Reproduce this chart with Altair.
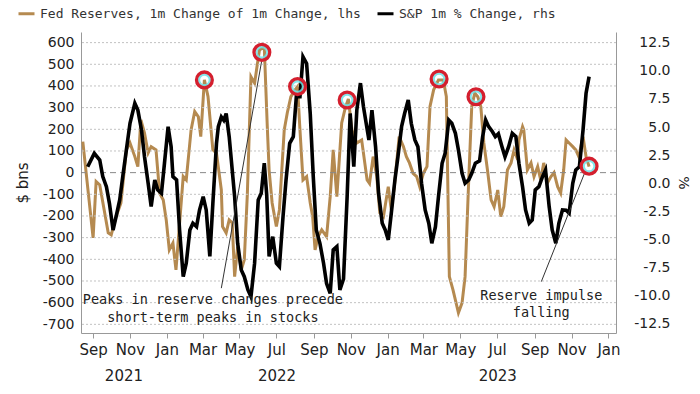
import altair as alt
import pandas as pd

TAN = "#b58a50"
BLACK = "#000000"
RED = "#d41f2e"
CYAN = "#6fe3e8"

S1 = "Fed Reserves, 1m Change of 1m Change, lhs"
S2 = "S&P 1m % Change, rhs"

reserve_dates = [
    "2021-08-15", "2021-09-01", "2021-09-06", "2021-09-12", "2021-09-26", "2021-10-01", "2021-10-09", "2021-10-17", "2021-10-26", "2021-11-01",
    "2021-11-09", "2021-11-14", "2021-11-19", "2021-11-25", "2021-12-01", "2021-12-06", "2021-12-14", "2021-12-20", "2021-12-26", "2021-12-31",
    "2022-01-05", "2022-01-11", "2022-01-16", "2022-01-28", "2022-02-02", "2022-02-10", "2022-02-16", "2022-02-22", "2022-02-26", "2022-03-04",
    "2022-03-10", "2022-03-18", "2022-03-24", "2022-04-01", "2022-04-03", "2022-04-09", "2022-04-14", "2022-04-19", "2022-04-23", "2022-04-28",
    "2022-05-04", "2022-05-09", "2022-05-14", "2022-05-20", "2022-05-26", "2022-06-03", "2022-06-11", "2022-06-16", "2022-06-19", "2022-06-24",
    "2022-07-01", "2022-07-06", "2022-07-14", "2022-07-19", "2022-07-25", "2022-08-01", "2022-08-05", "2022-08-09", "2022-08-14", "2022-08-20",
    "2022-08-26", "2022-08-30", "2022-09-03", "2022-09-08", "2022-09-14", "2022-09-22", "2022-09-28", "2022-10-03", "2022-10-09", "2022-10-17",
    "2022-10-23", "2022-10-28", "2022-11-03", "2022-11-11", "2022-11-19", "2022-11-28", "2022-12-02", "2022-12-08", "2022-12-14", "2022-12-19",
    "2022-12-25", "2023-01-02", "2023-01-07", "2023-01-12", "2023-01-20", "2023-01-27", "2023-02-01", "2023-02-06", "2023-02-12", "2023-02-18",
    "2023-02-23", "2023-03-01", "2023-03-07", "2023-03-12", "2023-03-18", "2023-03-26", "2023-04-03", "2023-04-08", "2023-04-13", "2023-04-19",
    "2023-04-28", "2023-05-04", "2023-05-09", "2023-05-15", "2023-05-20", "2023-05-25", "2023-05-30", "2023-06-04", "2023-06-09", "2023-06-15",
    "2023-06-21", "2023-06-26", "2023-07-02", "2023-07-07", "2023-07-12", "2023-07-18", "2023-07-24", "2023-07-29", "2023-08-04", "2023-08-06",
    "2023-08-12", "2023-08-14", "2023-08-20", "2023-08-26", "2023-08-31", "2023-09-06", "2023-09-11", "2023-09-16", "2023-09-22", "2023-09-28",
    "2023-10-03", "2023-10-09", "2023-10-14", "2023-10-19", "2023-10-23", "2023-10-28", "2023-11-03", "2023-11-08", "2023-11-13", "2023-11-20",
    "2023-11-25", "2023-11-30",
]
reserve_values = [
    143, -301, -41, -57, -278, -287, -203, -140, 105, 137,
    74, 28, 243, 183, 91, 120, 105, -94, -126, -220,
    -357, -325, -449, -18, -34, 197, 282, 258, 166, 428,
    351, 105, 90, -80, -249, -278, -218, -232, -480, -341,
    -449, -402, -100, 443, 413, 566, 580, 212, 12, -140,
    -249, -172, 197, 275, 351, 382, 397, 197, -34, -18,
    -140, -203, -357, -295, -264, -295, -111, 105, -111, 229,
    300, 340, 197, 137, 151, -34, -50, 74, -18, -186,
    -203, -65, -172, -65, 166, 120, 74, 45, -3, -18,
    -65, -3, 28, 305, 382, 428, 428, 351, -480, -541,
    -647, -601, -480, -34, 305, 367, 350, 305, 137, 12,
    -126, -157, -80, -203, -157, 12, 45, 105, 59, 151,
    212, 197, 12, 45, -18, 28, -34, 45, -48, -18,
    0, -65, -94, 12, 151, 137, 120, 105, 74, 166,
    74, 28,
]

spx_dates = [
    "2021-08-23", "2021-09-03", "2021-09-12", "2021-09-17", "2021-09-23", "2021-09-28", "2021-10-04", "2021-10-09", "2021-10-15", "2021-10-20",
    "2021-10-26", "2021-11-01", "2021-11-09", "2021-11-14", "2021-11-20", "2021-11-25", "2021-12-01", "2021-12-06", "2021-12-12", "2021-12-17",
    "2021-12-23", "2021-12-28", "2022-01-03", "2022-01-08", "2022-01-11", "2022-01-17", "2022-01-22", "2022-01-28", "2022-02-02", "2022-02-08",
    "2022-02-13", "2022-02-19", "2022-02-24", "2022-03-02", "2022-03-07", "2022-03-13", "2022-03-18", "2022-03-24", "2022-03-27", "2022-04-01",
    "2022-04-05", "2022-04-09", "2022-04-14", "2022-04-23", "2022-04-28", "2022-05-04", "2022-05-09", "2022-05-15", "2022-05-20", "2022-05-26",
    "2022-06-01", "2022-06-06", "2022-06-11", "2022-06-15", "2022-06-19", "2022-06-25", "2022-07-01", "2022-07-06", "2022-07-12", "2022-07-17",
    "2022-07-23", "2022-07-29", "2022-08-03", "2022-08-09", "2022-08-14", "2022-08-20", "2022-08-26", "2022-08-31", "2022-09-05", "2022-09-11",
    "2022-09-17", "2022-09-22", "2022-09-28", "2022-10-03", "2022-10-09", "2022-10-14", "2022-10-20", "2022-10-26", "2022-10-31", "2022-11-06",
    "2022-11-11", "2022-11-17", "2022-11-22", "2022-12-01", "2022-12-06", "2022-12-12", "2022-12-17", "2022-12-23", "2022-12-28", "2023-01-02",
    "2023-01-07", "2023-01-13", "2023-01-18", "2023-01-24", "2023-01-29", "2023-02-04", "2023-02-09", "2023-02-15", "2023-02-20", "2023-02-26",
    "2023-03-04", "2023-03-10", "2023-03-15", "2023-03-21", "2023-03-26", "2023-04-01", "2023-04-06", "2023-04-12", "2023-04-17", "2023-04-23",
    "2023-04-28", "2023-05-04", "2023-05-09", "2023-05-15", "2023-05-20", "2023-05-26", "2023-06-02", "2023-06-07", "2023-06-12", "2023-06-17",
    "2023-06-23", "2023-06-28", "2023-07-03", "2023-07-09", "2023-07-14", "2023-07-20", "2023-07-26", "2023-08-01", "2023-08-06", "2023-08-12",
    "2023-08-17", "2023-08-23", "2023-08-28", "2023-09-02", "2023-09-08", "2023-09-14", "2023-09-19", "2023-09-25", "2023-09-30", "2023-10-06",
    "2023-10-11", "2023-10-17", "2023-10-23", "2023-10-28", "2023-11-03", "2023-11-08", "2023-11-14", "2023-11-20", "2023-11-25", "2023-11-30",
]
spx_values = [
    1.47, 2.66, 2.07, 0.59, -0.3, -1.78, -4.15, -2.97, -1.48, 0.59,
    2.96, 5.33, 7.1, 6.5, 4.73, 2.36, 0.0, -2.07, 0.3, -0.59,
    -0.89, 1.78, 5.03, 3.25, 0.59, 0.3, -4.15, -8.3, -7.1, -4.15,
    -3.55, -3.85, -2.37, -1.19, -2.37, -6.5, -1.78, 3.55, 5.03, 5.9,
    5.6, 6.2, 4.14, -1.19, -5.33, -7.7, -8.3, -9.47, -10.07, -7.1,
    -1.48, -0.89, 1.78, -1.0, -6.5, -4.74, -7.1, -7.4, -2.97, 0.3,
    3.55, 4.14, 7.7, 7.7, 11.24, 10.65, 6.2, 0.59, -4.15, -5.33,
    -7.1, -8.9, -9.77, -5.92, -5.63, -9.47, -8.5, -1.19, 6.2, 1.47,
    6.5, 8.9, 6.8, 3.85, 6.5, 3.25, -0.89, -3.55, -4.15, -5.03,
    -2.66, 0.3, 2.36, 5.03, 6.2, 7.4, 5.33, 3.85, 3.25, 0.0,
    -2.37, -3.55, -5.33, -3.85, -1.19, 1.78, 2.66, 5.62, 5.33, 4.44,
    2.96, 0.89, 0.0, 0.3, 0.89, 1.78, 2.0, 4.14, 5.62, 5.03,
    4.6, 4.14, 4.4, 3.25, 2.36, 3.25, 4.44, 4.14, 1.78, -0.3,
    -2.37, -3.55, -3.26, -0.59, -0.3, 0.59, 1.18, -2.07, -4.15, -5.33,
    -3.55, -2.37, -2.4, -2.66, 0.0, 1.18, 1.47, 4.73, 8.0, 9.47,
]

peak_dates = ["2022-03-04", "2022-06-07", "2022-08-05", "2022-10-26", "2023-03-27", "2023-05-27", "2023-11-30"]
peak_values = [428, 555, 397, 335, 432, 350, 30]

arrow_start_dates = ["2022-04-01", "2023-09-12"]
arrow_start_values = [-533, -503]
arrow_end_dates = ["2022-06-07", "2023-11-22"]
arrow_end_values = [520, -6]

note_texts = ["Peaks in reserve changes precede", "short-term peaks in stocks", "Reserve impulse", "falling"]
note_dates = ["2022-03-18", "2022-03-18", "2023-09-12", "2023-09-12"]
note_values = [-587, -670, -570, -647]

year_labels = ["2021", "2022", "2023"]
year_dates = ["2021-10-22", "2022-07-02", "2023-07-02"]

left_ticks = list(range(-700, 700, 100))
right_ticks = [-12.5, -10.0, -7.5, -5.0, -2.5, 0.0, 2.5, 5.0, 7.5, 10.0, 12.5]
month_ticks = [(2021, 9), (2021, 11), (2022, 1), (2022, 3), (2022, 5), (2022, 7), (2022, 9), (2022, 11),
               (2023, 1), (2023, 3), (2023, 5), (2023, 7), (2023, 9), (2023, 11), (2024, 1)]

LEFT_DOMAIN = [-740, 649]
RIGHT_DOMAIN = [-13.3, 13.44]

reserves = pd.DataFrame({"date": reserve_dates, "value": reserve_values, "series": S1})
spx = pd.DataFrame({"date": spx_dates, "value": spx_values, "series": S2})
peaks = pd.DataFrame({"date": peak_dates, "value": peak_values})
arrows = pd.DataFrame({"date": arrow_start_dates, "v1": arrow_start_values, "d2": arrow_end_dates, "v2": arrow_end_values})
notes = pd.DataFrame({"date": note_dates, "value": note_values, "text": note_texts})
years = pd.DataFrame({"date": year_dates, "text": year_labels})
grid_df = pd.DataFrame({"v": [t for t in left_ticks if t != 0]})
zero = pd.DataFrame({"v": [0]})

SANS = "DejaVu Sans"
MONO = "DejaVu Sans Mono"


def xscale():
    return alt.Scale(type="utc", domain=[
        alt.DateTime(year=2021, month=8, date=12, utc=True),
        alt.DateTime(year=2024, month=1, date=13, hours=12, utc=True),
    ])


def lscale():
    return alt.Scale(domain=LEFT_DOMAIN, nice=False, zero=False)


def rscale():
    return alt.Scale(domain=RIGHT_DOMAIN, nice=False, zero=False)


def xaxis():
    return alt.Axis(
        values=[alt.DateTime(year=y, month=m, date=1, utc=True) for y, m in month_ticks],
        labelExpr="utcFormat(datum.value, '%b')", title=None, grid=False,
        tickSize=5, tickColor="#999999", domainColor="#999999",
        labelFont=SANS, labelFontSize=15, labelColor="#222222", labelPadding=4,
        labelFlush=False, labelOverlap=False, orient="bottom",
    )


def X(field="date"):
    return alt.X(f"{field}:T", scale=xscale(), axis=xaxis(), title=None)


laxis = alt.Axis(
    values=left_ticks, labelExpr="replace(format(datum.value, 'd'), '\u2212', '-')",
    title="$ bns", titleFont=SANS, titleFontSize=15, titleFontWeight="normal", titleColor="#222222",
    titlePadding=12, labelFont=SANS, labelFontSize=14, labelColor="#222222", labelPadding=7,
    ticks=False, domainColor="#999999", grid=False, orient="left",
)
raxis = alt.Axis(
    values=right_ticks, labelExpr="replace(format(datum.value, '.1f'), '\u2212', '-')",
    title="%", titleFont=SANS, titleFontSize=14, titleFontWeight="normal", titleColor="#222222",
    titlePadding=5, labelFont=SANS, labelFontSize=14, labelColor="#222222", labelAlign="right",
    labelPadding=54, ticks=False, domainColor="#999999", grid=False, orient="right",
)

color = alt.Color("series:N", scale=alt.Scale(domain=[S1, S2], range=[TAN, BLACK]),
                  legend=alt.Legend(orient="none", legendX=-64, legendY=-28, direction="horizontal",
                                    title=None, symbolType="stroke", symbolStrokeWidth=3, symbolSize=256,
                                    labelFont=MONO, labelFontSize=13, labelColor="#333333",
                                    columnPadding=10, labelOffset=4, labelLimit=600))

tan_line = alt.Chart(reserves).mark_line(strokeWidth=3).encode(
    x=X(),
    y=alt.Y("value:Q", scale=lscale(), axis=laxis),
    color=color,
)
grid_rules = alt.Chart(grid_df).mark_rule(color="#c2c2c2", strokeDash=[2, 2], strokeWidth=1).encode(
    y=alt.Y("v:Q", scale=lscale(), axis=None),
)
zero_rule = alt.Chart(zero).mark_rule(color="#888888", strokeDash=[6, 4], strokeWidth=1).encode(
    y=alt.Y("v:Q", scale=lscale(), axis=None),
)
black_line = alt.Chart(spx).mark_line(strokeWidth=3.6).encode(
    x=X(),
    y=alt.Y("value:Q", scale=rscale(), axis=raxis),
    color=color,
)
arrow_rules = alt.Chart(arrows).mark_rule(color="#333333", strokeWidth=1).encode(
    x=X(), x2="d2:T",
    y=alt.Y("v1:Q", scale=lscale(), axis=None), y2="v2:Q",
)
cyan_rings = alt.Chart(peaks).mark_point(shape="circle", filled=False, stroke=CYAN, strokeWidth=2.5,
                                         opacity=0.85, size=120).encode(
    x=X(),
    y=alt.Y("value:Q", scale=lscale(), axis=None),
)
red_rings = alt.Chart(peaks).mark_point(shape="circle", filled=False, stroke=RED, strokeWidth=3.3,
                                        opacity=1, size=250).encode(
    x=X(),
    y=alt.Y("value:Q", scale=lscale(), axis=None),
)
note_text = alt.Chart(notes).mark_text(font=MONO, fontSize=13.5, color="#222222", align="center",
                                       baseline="middle").encode(
    x=X(),
    y=alt.Y("value:Q", scale=lscale(), axis=None),
    text="text:N",
)
year_text = alt.Chart(years).mark_text(font=SANS, fontSize=15, color="#222222", align="center",
                                       baseline="middle").encode(
    x=X(),
    y=alt.value(344),
    text="text:N",
)

chart = alt.layer(
    tan_line, grid_rules, zero_rule, black_line, arrow_rules, cyan_rings, red_rings, note_text, year_text
).resolve_scale(y="independent").properties(
    width=535, height=301,
    autosize=alt.AutoSizeParams(type="none"),
    padding={"left": 73, "top": 24, "right": 74, "bottom": 51},
).configure_view(stroke=None)

chart.save("out.html", embed_options={"renderer": "svg", "actions": False})
